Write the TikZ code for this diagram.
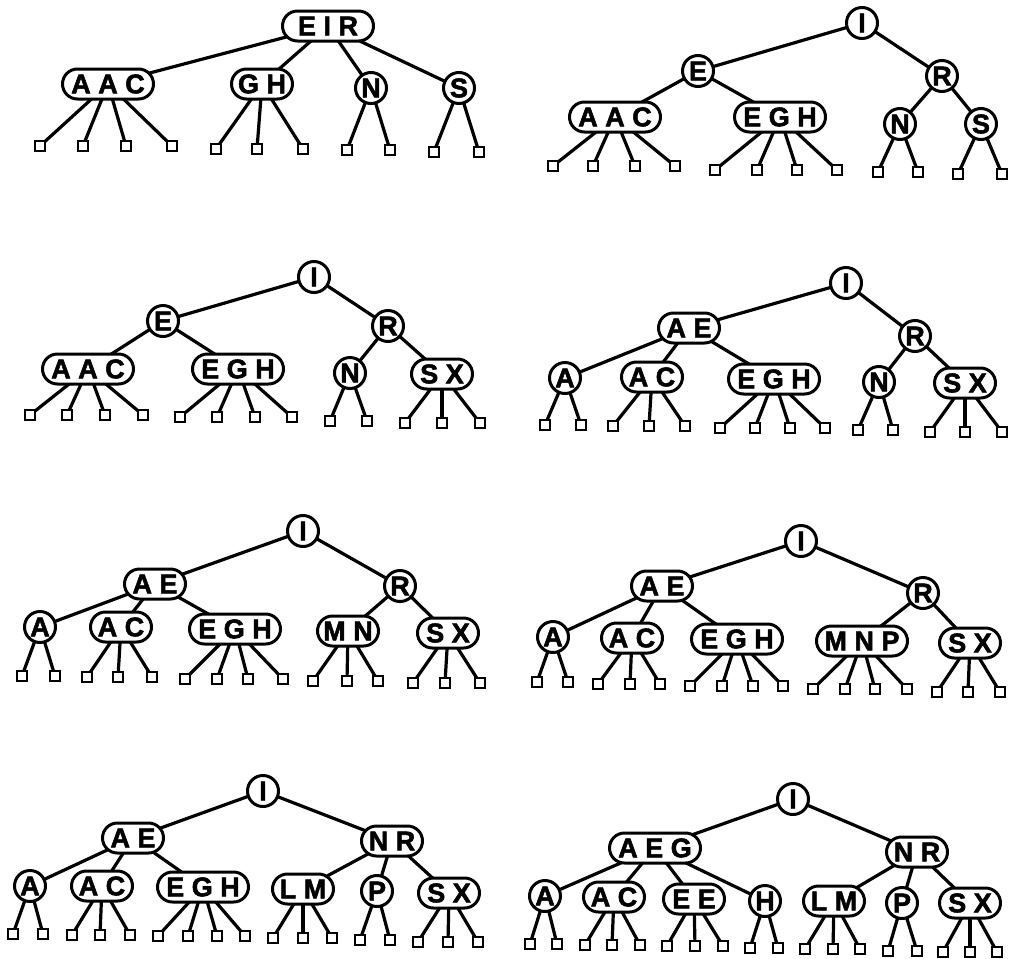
\documentclass[tikz,border=0pt]{standalone}
\usepackage{fontspec}
\setmainfont{Liberation Sans}
\newfontfamily\keyfont[FakeBold=2]{Liberation Sans Bold}
\usepackage{tikz}
\usetikzlibrary{backgrounds}
\tikzset{
  key1/.style={circle, draw, line width=3pt, fill=white, inner sep=0pt,
               minimum size=31pt, font=\fontsize{27}{30}\keyfont},
  key2/.style={rectangle, rounded corners=15pt, draw, line width=3pt, fill=white,
               inner sep=0pt, minimum width=61pt, minimum height=30pt,
               font=\fontsize{27}{30}\keyfont},
  key3/.style={key2, minimum width=91pt},
  leaf/.style={rectangle, draw, line width=2.5pt, fill=white, inner sep=0pt,
               minimum size=10pt},
  link/.style={line width=3.2pt},
}

\begin{document}
\begin{tikzpicture}[x=1pt, y=-1pt]
  \useasboundingbox (0,0) rectangle (1010,959);

  % tree 1
  \node[key3] (eir1) at (328,26) {E I R};
  \node[key3] (aac1) at (108,84) {A A C};
  \node[key2] (gh1) at (262,84) {G H};
  \node[key1] (n1) at (371,88) {N};
  \node[key1] (s1) at (459,88) {S};
  \begin{scope}[on background layer]
    \draw[link] (eir1.center) -- (aac1.center);
    \draw[link] (eir1.center) -- (gh1.center);
    \draw[link] (eir1.center) -- (n1.center);
    \draw[link] (eir1.center) -- (s1.center);
  \end{scope}
  \foreach \p/\y/\xs in {aac1/146/{40,83,126,172}, gh1/149/{216,257,303},
                         n1/150/{347,390}, s1/152/{434,479}}
    \foreach \x [count=\i] in \xs {
      \node[leaf] (\p-\i) at (\x,\y) {};
      \begin{scope}[on background layer]
        \draw[link] (\p.center) -- (\p-\i.center);
      \end{scope}
    }

  % tree 2
  \node[key1] (i2) at (862,23) {I};
  \node[key1] (e2) at (698,71) {E};
  \node[key1] (r2) at (942,76) {R};
  \node[key3] (aac2) at (615,117) {A A C};
  \node[key3] (egh2) at (780,117) {E G H};
  \node[key1] (n2) at (900,124) {N};
  \node[key1] (s2) at (981,124) {S};
  \begin{scope}[on background layer]
    \draw[link] (i2.center) -- (e2.center);
    \draw[link] (i2.center) -- (r2.center);
    \draw[link] (e2.center) -- (aac2.center);
    \draw[link] (e2.center) -- (egh2.center);
    \draw[link] (r2.center) -- (n2.center);
    \draw[link] (r2.center) -- (s2.center);
  \end{scope}
  \foreach \p/\y/\xs in {aac2/166/{553,593,635,675}, egh2/170/{715,757,797,837},
                         n2/172/{878,918}, s2/174/{958,1002}}
    \foreach \x [count=\i] in \xs {
      \node[leaf] (\p-\i) at (\x,\y) {};
      \begin{scope}[on background layer]
        \draw[link] (\p.center) -- (\p-\i.center);
      \end{scope}
    }

  % tree 3
  \node[key1] (i3) at (314,277) {I};
  \node[key1] (e3) at (163,321) {E};
  \node[key1] (r3) at (388,326) {R};
  \node[key3] (aac3) at (88,369) {A A C};
  \node[key3] (egh3) at (238,369) {E G H};
  \node[key1] (n3) at (350,373) {N};
  \node[key2] (sx3) at (442,374) {S X};
  \begin{scope}[on background layer]
    \draw[link] (i3.center) -- (e3.center);
    \draw[link] (i3.center) -- (r3.center);
    \draw[link] (e3.center) -- (aac3.center);
    \draw[link] (e3.center) -- (egh3.center);
    \draw[link] (r3.center) -- (n3.center);
    \draw[link] (r3.center) -- (sx3.center);
  \end{scope}
  \foreach \p/\y/\xs in {aac3/415/{30,67,105,143}, egh3/417/{180,217,255,292},
                         n3/421/{330,367}, sx3/423/{405,442,480}}
    \foreach \x [count=\i] in \xs {
      \node[leaf] (\p-\i) at (\x,\y) {};
      \begin{scope}[on background layer]
        \draw[link] (\p.center) -- (\p-\i.center);
      \end{scope}
    }

  % tree 4
  \node[key1] (i4) at (846,283) {I};
  \node[key2] (ae4) at (689,328) {A E};
  \node[key1] (r4) at (915,336) {R};
  \node[key1] (a4) at (565,378) {A};
  \node[key2] (ac4) at (652,377) {A C};
  \node[key3] (egh4) at (774,379) {E G H};
  \node[key1] (n4) at (879,382) {N};
  \node[key2] (sx4) at (965,383) {S X};
  \begin{scope}[on background layer]
    \draw[link] (i4.center) -- (ae4.center);
    \draw[link] (i4.center) -- (r4.center);
    \draw[link] (ae4.center) -- (a4.center);
    \draw[link] (ae4.center) -- (ac4.center);
    \draw[link] (ae4.center) -- (egh4.center);
    \draw[link] (r4.center) -- (n4.center);
    \draw[link] (r4.center) -- (sx4.center);
  \end{scope}
  \foreach \p/\y/\xs in {a4/425/{545,581}, ac4/426/{613,649,685},
                         egh4/428/{720,755,790,825}, n4/430/{858,893},
                         sx4/432/{930,965,1002}}
    \foreach \x [count=\i] in \xs {
      \node[leaf] (\p-\i) at (\x,\y) {};
      \begin{scope}[on background layer]
        \draw[link] (\p.center) -- (\p-\i.center);
      \end{scope}
    }

  % tree 5
  \node[key1] (i5) at (303,531) {I};
  \node[key2] (ae5) at (155,584) {A E};
  \node[key1] (r5) at (400,586) {R};
  \node[key1] (a5) at (40,627) {A};
  \node[key2] (ac5) at (121,627) {A C};
  \node[key3] (egh5) at (235,629) {E G H};
  \node[key2] (mn5) at (348,631) {M N};
  \node[key2] (sx5) at (448,633) {S X};
  \begin{scope}[on background layer]
    \draw[link] (i5.center) -- (ae5.center);
    \draw[link] (i5.center) -- (r5.center);
    \draw[link] (ae5.center) -- (a5.center);
    \draw[link] (ae5.center) -- (ac5.center);
    \draw[link] (ae5.center) -- (egh5.center);
    \draw[link] (r5.center) -- (mn5.center);
    \draw[link] (r5.center) -- (sx5.center);
  \end{scope}
  \foreach \p/\y/\xs in {a5/676/{22,55}, ac5/677/{87,118,152},
                         egh5/679/{185,217,248,283}, mn5/681/{313,347,378},
                         sx5/683/{413,445,480}}
    \foreach \x [count=\i] in \xs {
      \node[leaf] (\p-\i) at (\x,\y) {};
      \begin{scope}[on background layer]
        \draw[link] (\p.center) -- (\p-\i.center);
      \end{scope}
    }

  % tree 6
  \node[key1] (i6) at (801,541) {I};
  \node[key2] (ae6) at (662,586) {A E};
  \node[key1] (r6) at (923,593) {R};
  \node[key1] (a6) at (553,637) {A};
  \node[key2] (ac6) at (632,638) {A C};
  \node[key3] (egh6) at (737,639) {E G H};
  \node[key3] (mnp6) at (862,641) {M N P};
  \node[key2] (sx6) at (970,643) {S X};
  \begin{scope}[on background layer]
    \draw[link] (i6.center) -- (ae6.center);
    \draw[link] (i6.center) -- (r6.center);
    \draw[link] (ae6.center) -- (a6.center);
    \draw[link] (ae6.center) -- (ac6.center);
    \draw[link] (ae6.center) -- (egh6.center);
    \draw[link] (r6.center) -- (mnp6.center);
    \draw[link] (r6.center) -- (sx6.center);
  \end{scope}
  \foreach \p/\y/\xs in {a6/682/{537,568}, ac6/684/{598,630,660},
                         egh6/686/{690,722,753,783}, mnp6/689/{813,845,875,907},
                         sx6/692/{937,968,1000}}
    \foreach \x [count=\i] in \xs {
      \node[leaf] (\p-\i) at (\x,\y) {};
      \begin{scope}[on background layer]
        \draw[link] (\p.center) -- (\p-\i.center);
      \end{scope}
    }

  % tree 7
  \node[key1] (i7) at (263,791) {I};
  \node[key2] (ae7) at (133,838) {A E};
  \node[key2] (nr7) at (392,841) {N R};
  \node[key1] (a7) at (30,886) {A};
  \node[key2] (ac7) at (102,886) {A C};
  \node[key3] (egh7) at (203,887) {E G H};
  \node[key2] (lm7) at (303,889) {L M};
  \node[key1] (p7) at (377,891) {P};
  \node[key2] (sx7) at (449,893) {S X};
  \begin{scope}[on background layer]
    \draw[link] (i7.center) -- (ae7.center);
    \draw[link] (i7.center) -- (nr7.center);
    \draw[link] (ae7.center) -- (a7.center);
    \draw[link] (ae7.center) -- (ac7.center);
    \draw[link] (ae7.center) -- (egh7.center);
    \draw[link] (nr7.center) -- (lm7.center);
    \draw[link] (nr7.center) -- (p7.center);
    \draw[link] (nr7.center) -- (sx7.center);
  \end{scope}
  \foreach \p/\y/\xs in {a7/934/{13,43}, ac7/935/{72,100,130},
                         egh7/936/{158,188,217,245}, lm7/938/{273,303,332},
                         p7/940/{360,390}, sx7/942/{418,448,478}}
    \foreach \x [count=\i] in \xs {
      \node[leaf] (\p-\i) at (\x,\y) {};
      \begin{scope}[on background layer]
        \draw[link] (\p.center) -- (\p-\i.center);
      \end{scope}
    }

  % tree 8
  \node[key1] (i8) at (793,799) {I};
  \node[key3] (aeg8) at (655,848) {A E G};
  \node[key2] (nr8) at (917,852) {N R};
  \node[key1] (a8) at (545,896) {A};
  \node[key2] (ac8) at (614,897) {A C};
  \node[key2] (ee8) at (694,899) {E E};
  \node[key1] (h8) at (765,901) {H};
  \node[key2] (lm8) at (834,901) {L M};
  \node[key1] (p8) at (902,903) {P};
  \node[key2] (sx8) at (970,903) {S X};
  \begin{scope}[on background layer]
    \draw[link] (i8.center) -- (aeg8.center);
    \draw[link] (i8.center) -- (nr8.center);
    \draw[link] (aeg8.center) -- (a8.center);
    \draw[link] (aeg8.center) -- (ac8.center);
    \draw[link] (aeg8.center) -- (ee8.center);
    \draw[link] (aeg8.center) -- (h8.center);
    \draw[link] (nr8.center) -- (lm8.center);
    \draw[link] (nr8.center) -- (p8.center);
    \draw[link] (nr8.center) -- (sx8.center);
  \end{scope}
  \foreach \p/\y/\xs in {a8/944/{530,557}, ac8/945/{585,612,640},
                         ee8/946/{667,695,723}, h8/948/{750,778},
                         lm8/949/{805,833,860}, p8/951/{888,917},
                         sx8/952/{943,970,997}}
    \foreach \x [count=\i] in \xs {
      \node[leaf] (\p-\i) at (\x,\y) {};
      \begin{scope}[on background layer]
        \draw[link] (\p.center) -- (\p-\i.center);
      \end{scope}
    }
\end{tikzpicture}
\end{document}
